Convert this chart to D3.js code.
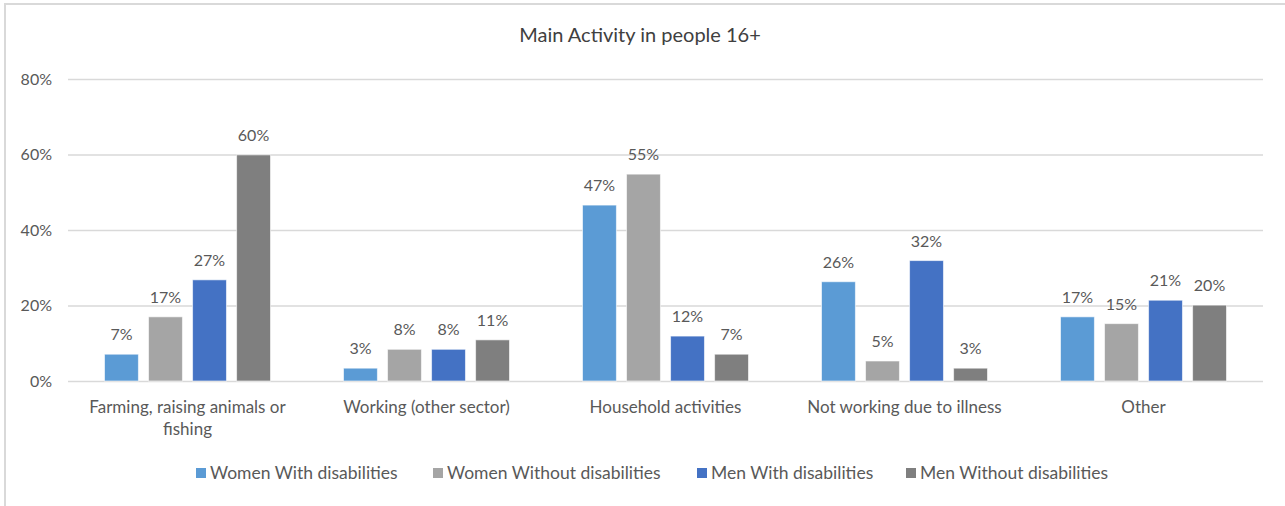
<!DOCTYPE html>
<html><head><meta charset="utf-8">
<script src="https://cdn.jsdelivr.net/npm/d3@7"></script>
<style>
html,body{margin:0;padding:0;background:#fff;}
svg{display:block;font-family:"Lato","Open Sans",sans-serif;}
</style></head>
<body>
<svg id="chart" width="1285" height="506"></svg>
<script>
const title = "Main Activity in people 16+";
const categories = [
  ["Farming, raising animals or", "fishing"],
  ["Working (other sector)"],
  ["Household activities"],
  ["Not working due to illness"],
  ["Other"]
];
const seriesNames = ["Women With disabilities","Women Without disabilities","Men With disabilities","Men Without disabilities"];
const seriesColors = ["#5B9BD5","#A5A5A5","#4472C4","#7F7F7F"];
const womenWith    = [0.071, 0.034, 0.466, 0.263, 0.170];
const womenWithout = [0.170, 0.084, 0.548, 0.053, 0.152];
const menWith      = [0.268, 0.084, 0.119, 0.319, 0.214];
const menWithout   = [0.599, 0.109, 0.071, 0.034, 0.201];
const yTicks = [0, 0.2, 0.4, 0.6, 0.8];

const seriesValues = [womenWith, womenWithout, menWith, menWithout];
const svg = d3.select("#chart");
const W = 1285, H = 506;
const plot = {left: 68, right: 1263, top: 79, bottom: 381};
const textColor = "#595959";

// outer border
svg.append("rect").attr("x",5).attr("y",4).attr("width",W+10).attr("height",H+10)
  .attr("fill","none").attr("stroke","#d9d9d9").attr("stroke-width",2);

svg.append("text").attr("x",640).attr("y",42).attr("text-anchor","middle")
  .attr("font-size",20).attr("fill","#404040").text(title);

const y = d3.scaleLinear().domain([0,0.8]).range([plot.bottom, plot.top]);
const x0 = d3.scaleBand().domain(d3.range(categories.length)).range([plot.left, plot.right]).paddingInner(0).paddingOuter(0);
const x1 = d3.scaleBand().domain(d3.range(seriesNames.length)).range([0, 166]).paddingInner(0.23).paddingOuter(0);

// gridlines
const yAxis = d3.axisLeft(y).tickValues(yTicks).tickFormat(d3.format(".0%")).tickSize(-(plot.right-plot.left)).tickPadding(12);
const ga = svg.append("g").attr("transform",`translate(${plot.left},0)`).call(yAxis);
ga.select(".domain").remove();
ga.selectAll(".tick line").attr("stroke","#d9d9d9").attr("stroke-width",1.5);
ga.selectAll(".tick text").attr("fill",textColor).attr("font-size",16).attr("font-family","Lato, sans-serif").attr("x",-16);

// bars
const groups = svg.append("g").selectAll("g").data(categories).join("g")
  .attr("transform",(d,i)=>`translate(${x0(i)+x0.bandwidth()/2-83},0)`);
groups.each(function(c,i){
  const g = d3.select(this);
  seriesValues.forEach((vals,s)=>{
    const v = vals[i];
    g.append("rect").attr("x",x1(s)).attr("y",y(v)).attr("width",x1.bandwidth())
      .attr("height",y(0)-y(v)).attr("fill",seriesColors[s])
      .attr("stroke","#ffffff").attr("stroke-opacity",0.6).attr("stroke-width",1);
    g.append("text").attr("x",x1(s)+x1.bandwidth()/2).attr("y",y(v)-14)
      .attr("text-anchor","middle").attr("font-size",16).attr("fill",textColor)
      .text(d3.format(".0%")(v));
  });
});

// category labels
categories.forEach((lines,i)=>{
  const t = svg.append("text").attr("text-anchor","middle").attr("font-size",17).attr("fill",textColor);
  lines.forEach((ln,k)=>{
    t.append("tspan").attr("x",x0(i)+x0.bandwidth()/2).attr("y",413+k*22).text(ln);
  });
});

// legend
const legendX = [196, 433, 697, 906];
seriesNames.forEach((n,s)=>{
  svg.append("rect").attr("x",legendX[s]).attr("y",468).attr("width",10).attr("height",10).attr("fill",seriesColors[s]);
  svg.append("text").attr("x",legendX[s]+14).attr("y",479).attr("font-size",17.5).attr("fill",textColor).text(n);
});
</script>
</body></html>
